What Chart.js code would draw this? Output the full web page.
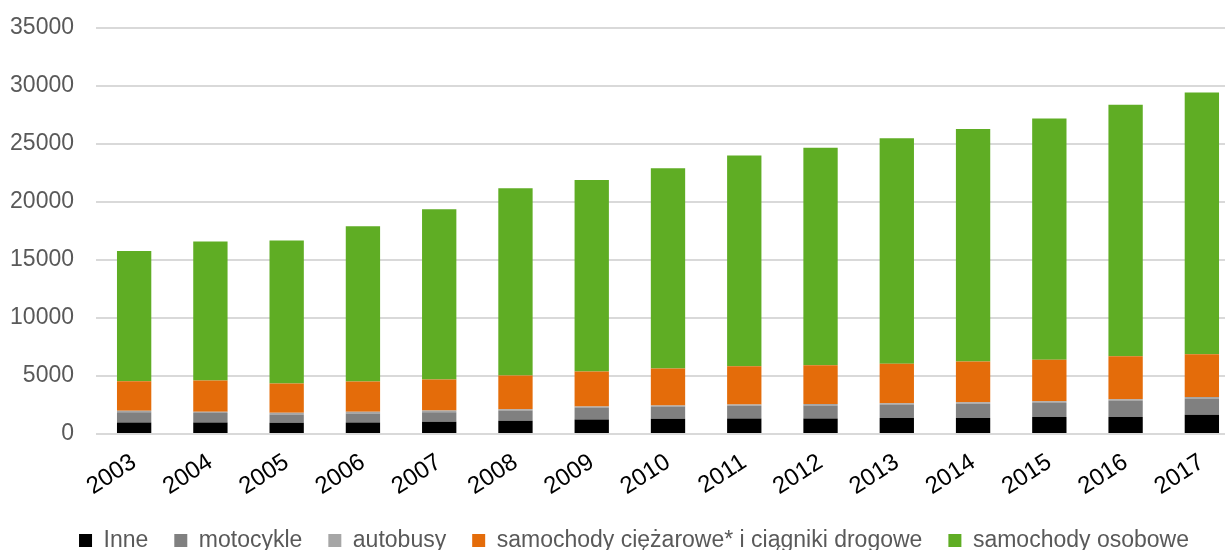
<!DOCTYPE html>
<html>
<head>
<meta charset="utf-8">
<script src="https://cdn.jsdelivr.net/npm/chart.js@4"></script>
<style>
    html, body { margin: 0; padding: 0; background: #fff; overflow: hidden; }
    #wrap { width: 1240px; height: 550px; }
</style>
</head>
<body>
<div id="wrap"><canvas id="vehicleChart"></canvas></div>
<script>
        // --- Chart Data ---
        const years = ['2003', '2004', '2005', '2006', '2007', '2008', '2009', '2010', '2011', '2012', '2013', '2014', '2015', '2016', '2017'];
        const inne = [1000, 990, 960, 1000, 1050, 1150, 1240, 1320, 1330, 1330, 1380, 1390, 1470, 1470, 1650];
        const motocykle = [870, 810, 720, 770, 830, 870, 1040, 1040, 1100, 1130, 1170, 1210, 1210, 1420, 1400];
        const autobusy = [130, 120, 150, 150, 140, 110, 100, 100, 120, 120, 110, 140, 150, 110, 150];
        const ciezarowe = [2550, 2700, 2530, 2610, 2680, 2920, 3010, 3180, 3280, 3340, 3390, 3520, 3570, 3710, 3670];
        const osobowe = [11230, 11980, 12320, 13370, 14680, 16140, 16510, 17280, 18170, 18760, 19450, 20040, 20800, 21680, 22560];
        const yTicks = [0, 5000, 10000, 15000, 20000, 25000, 30000, 35000];

        const font = "'Liberation Sans', Arial, sans-serif";
        const textColor = '#595959';

        // pull the legend closer to the bottom edge and a bit to the right
        const legendShift = {
            id: 'legendShift',
            afterInit(chart) {
                const legend = chart.legend;
                const fit = legend.fit;
                const draw = legend.draw;
                legend.fit = function () {
                    fit.call(this);
                    this.height -= 12;
                };
                legend.draw = function () {
                    this.ctx.save();
                    this.ctx.translate(14, 0);
                    draw.call(this);
                    this.ctx.restore();
                };
            }
        };

        // --- Stacked bar chart ---
        const ctx = document.getElementById('vehicleChart').getContext('2d');
        const vehicleChart = new Chart(ctx, {
            type: 'bar',
            data: {
                labels: years,
                datasets: [
                    { label: 'Inne', data: inne, backgroundColor: '#000000' },
                    { label: 'motocykle', data: motocykle, backgroundColor: '#808080' },
                    { label: 'autobusy', data: autobusy, backgroundColor: '#A6A6A6' },
                    { label: 'samochody ciężarowe* i ciągniki drogowe', data: ciezarowe, backgroundColor: '#E46C0A' },
                    { label: 'samochody osobowe', data: osobowe, backgroundColor: '#5FAD24' }
                ]
            },
            options: {
                responsive: true,
                maintainAspectRatio: false,
                animation: false,
                datasets: { bar: { barPercentage: 0.45, categoryPercentage: 1 } },
                layout: { padding: { top: 28, right: 0, bottom: 0, left: 0 } },
                plugins: {
                    title: { display: false },
                    tooltip: { enabled: false },
                    legend: {
                        position: 'bottom',
                        labels: {
                            boxWidth: 13,
                            boxHeight: 13,
                            padding: 26,
                            color: textColor,
                            font: { family: font, size: 23 }
                        }
                    }
                },
                scales: {
                    x: {
                        stacked: true,
                        grid: { display: false },
                        border: { display: false },
                        afterFit: (axis) => { axis.height = 69; },
                        ticks: {
                            color: '#000',
                            font: { family: font, size: 24 },
                            minRotation: 33,
                            maxRotation: 33,
                            padding: 6
                        }
                    },
                    y: {
                        stacked: true,
                        min: 0,
                        max: 35000,
                        afterBuildTicks: (axis) => { axis.ticks = yTicks.map(v => ({ value: v })); },
                        afterFit: (axis) => { axis.width = 96; },
                        grid: { color: '#D9D9D9', lineWidth: 2, drawTicks: true, tickLength: 18, tickColor: 'rgba(0,0,0,0)' },
                        border: { display: false },
                        ticks: {
                            color: textColor,
                            font: { family: font, size: 23 },
                            padding: 4,
                            callback: (v) => String(v)
                        }
                    }
                }
            },
            plugins: [legendShift]
        });
</script>
</body>
</html>
